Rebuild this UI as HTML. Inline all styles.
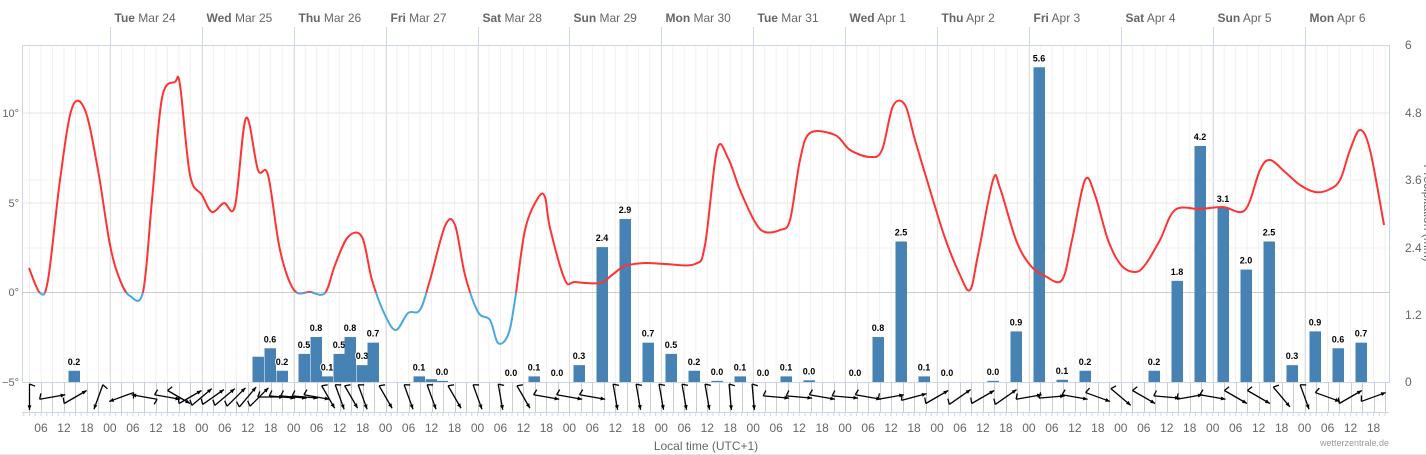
<!DOCTYPE html>
<html><head><meta charset="utf-8"><style>
html,body{margin:0;padding:0;background:#fff;width:1426px;height:455px;overflow:hidden}
svg{display:block;font-family:"Liberation Sans",sans-serif}
</style></head><body>
<svg id="s" width="1426" height="455" xmlns="http://www.w3.org/2000/svg"></svg>
<script>
var s=document.getElementById('s'),h='';
var L=22,R=1389,T=45,B=382;
function X(hr){return 18+hr*91.9/24;}
for(var t=0;t<24*15;t+=3){var x=X(t);if(x<=L||x>=R)continue;h+='<line x1="'+x+'" y1="'+T+'" x2="'+x+'" y2="'+B+'" stroke="#f0f0f0" stroke-width="1"/>';}
var days=['Tue|Mar 24','Wed|Mar 25','Thu|Mar 26','Fri|Mar 27','Sat|Mar 28','Sun|Mar 29','Mon|Mar 30','Tue|Mar 31','Wed|Apr 1','Thu|Apr 2','Fri|Apr 3','Sat|Apr 4','Sun|Apr 5','Mon|Apr 6'];
for(var d=1;d<=14;d++){var x=Math.round(X(d*24))+.5;h+='<line x1="'+x+'" y1="'+T+'" x2="'+x+'" y2="'+B+'" stroke="#dedede"/>';h+='<line x1="'+x+'" y1="27" x2="'+x+'" y2="'+T+'" stroke="#ccd6eb"/>';var p=days[d-1].split('|');h+='<text x="'+(x+4)+'" y="22" font-size="12" fill="#666"><tspan font-weight="bold">'+p[0]+'</tspan> '+p[1]+'</text>';}
[[113,'#e6e6e6'],[203,'#e6e6e6'],[248,'#f2f2f2'],[180,'#f2f2f2'],[292.5,'#ccc']].forEach(function(g){h+='<line x1="'+L+'" y1="'+g[0]+'" x2="'+R+'" y2="'+g[0]+'" stroke="'+g[1]+'"/>';});
h+='<rect x="'+(L+.5)+'" y="'+(T+.5)+'" width="'+(R-L)+'" height="'+(B-T)+'" fill="none" stroke="#ccd6eb"/>';
[['10°',113],['5°',203],['0°',292],['−5°',382]].forEach(function(a){h+='<text x="19" y="'+(a[1]+4)+'" font-size="11" fill="#666" text-anchor="end">'+a[0]+'</text>';});
[['6',45],['4.8',113],['3.6',180],['2.4',248],['1.2',315],['0',382]].forEach(function(a){h+='<text x="1405" y="'+(a[1]+4)+'" font-size="12" fill="#666">'+a[0]+'</text>';});
h+='<text transform="translate(1424,213) rotate(90)" font-size="12" fill="#666" text-anchor="middle">Precipitation (mm)</text>';
var bars=[[74,.2,1],[258,.45,0],[270,.6,1],[282,.2,1],[304,.5,1],[316,.8,1],[327,.1,1],[339,.5,1],[350,.8,1],[362,.3,1],[373,.7,1],[419,.1,1],[431,.05,0],[442,.02,1],[511,0,1],[534,.1,1],[557,0,1],[579,.3,1],[602,2.4,1],[625,2.9,1],[648,.7,1],[671,.5,1],[694,.2,1],[717,.02,1],[740,.1,1],[763,0,1],[786,.1,1],[809,.03,1],[855,0,1],[878,.8,1],[901,2.5,1],[924,.1,1],[947,0,1],[993,.02,1],[1016,.9,1],[1039,5.6,1],[1062,.04,1],[1085,.2,1],[1154,.2,1],[1177,1.8,1],[1200,4.2,1],[1223,3.1,1],[1246,2.0,1],[1269,2.5,1],[1292,.3,1],[1315,.9,1],[1338,.6,1],[1361,.7,1]];
var lab=['0.2','','0.6','0.2','0.5','0.8','0.1','0.5','0.8','0.3','0.7','0.1','','0.0'];
bars.forEach(function(b,i){var hh=b[1]*56.2,y=B-hh;h+='<rect x="'+(b[0]-5.5)+'" y="'+y+'" width="11.5" height="'+hh+'" fill="#4682b4"/>';if(b[2]){var tx=i<14?lab[i]:b[1].toFixed(1);if(i==36)tx='0.1';if(tx)h+='<text x="'+b[0]+'" y="'+(y-6)+'" font-size="9" font-weight="bold" text-anchor="middle" fill="#000" stroke="#fff" stroke-width="2" paint-order="stroke">'+tx+'</text>';}});
var P=[[29,268],[40,293],[48,280],[60,180],[72,108],[85,110],[98,170],[110,245],[120,280],[130,296],[143,292],[152,200],[162,98],[175,82],[180,85],[190,175],[202,195],[212,212],[224,203],[235,206],[246,118],[258,170],[268,175],[280,250],[294,290],[310,292],[325,293],[335,265],[348,237],[362,237],[372,280],[385,315],[396,330],[408,313],[420,310],[430,280],[445,226],[455,225],[465,275],[478,312],[490,320],[498,343],[508,335],[515,300],[525,230],[538,198],[545,197],[550,228],[565,280],[575,282],[600,283],[612,275],[625,266],[645,263],[665,264],[695,264],[705,245],[717,150],[728,158],[740,190],[755,222],[765,232],[780,230],[790,220],[800,160],[810,133],[835,135],[850,150],[870,157],[882,150],[893,106],[905,105],[915,140],[930,190],[945,238],[960,275],[970,290],[978,255],[993,180],[1000,188],[1016,240],[1030,265],[1045,276],[1062,280],[1072,240],[1085,180],[1095,195],[1108,240],[1121,265],[1135,272],[1145,265],[1160,240],[1175,210],[1200,209],[1223,207],[1245,210],[1260,170],[1270,160],[1285,172],[1300,185],[1315,192],[1328,190],[1340,180],[1350,150],[1360,130],[1370,150],[1384,225]];
var d='M'+P[0];for(var i=1;i<P.length;i++){var p0=P[Math.max(0,i-2)],p1=P[i-1],p2=P[i],p3=P[Math.min(P.length-1,i+1)];var c1x=p1[0]+(p2[0]-p0[0])/6,c1y=p1[1]+(p2[1]-p0[1])/6,c2x=p2[0]-(p3[0]-p1[0])/6,c2y=p2[1]-(p3[1]-p1[1])/6;d+=' C'+c1x+','+c1y+' '+c2x+','+c2y+' '+p2[0]+','+p2[1];}
h+='<clipPath id="a"><rect x="0" y="0" width="1426" height="292.5"/></clipPath><clipPath id="b"><rect x="0" y="292.5" width="1426" height="100"/></clipPath>';
h+='<path d="'+d+'" fill="none" stroke="#f33" stroke-width="2" clip-path="url(#a)"/><path d="'+d+'" fill="none" stroke="#4aa8e0" stroke-width="2" clip-path="url(#b)"/>';
for(var t=0;t<24*15;t+=3){var x=Math.round(X(t))+.5;if(x<=L||x>=R)continue;h+='<line x1="'+x+'" y1="382" x2="'+x+'" y2="412" stroke="#ccc"/>';}
for(var t=0;t<24*15;t+=1.5){var x=X(t);if(x<L||x>R)continue;h+='<line x1="'+x+'" y1="412" x2="'+x+'" y2="416" stroke="#ccd6eb"/>';}
h+='<line x1="'+L+'" y1="412.5" x2="'+R+'" y2="412.5" stroke="#ccd6eb"/>';
var ang=[180,80,60,200,250,280,100,120,60,50,55,50,45,40,45,90,95,95,95,100,150,160,150,160,150,160,160,150,160,170,150,100,100,100,170,170,170,170,170,175,175,95,95,100,95,100,80,75,60,55,60,55,80,85,100,110,130,120,95,80,100,120,120,140,160,110,60,70,60,180,150,60,110,100,60,55,100,80,80,90,90,170,200];
var k=0;for(var t=3;t<24*15-3;t+=(t>36&&t<90?3:6)){var x=X(t);if(x<L+5||x>R-3)continue;var a=(ang[k++%ang.length]-90)*Math.PI/180,l=13,cx=x,cy=397,x1=cx-Math.cos(a)*l,y1=cy-Math.sin(a)*l,x2=cx+Math.cos(a)*l,y2=cy+Math.sin(a)*l;h+='<line x1="'+x1+'" y1="'+y1+'" x2="'+x2+'" y2="'+y2+'" stroke="#000" stroke-width="1.3"/>';var ha=a+Math.PI;h+='<path d="M'+x2+','+y2+' L'+(x2+Math.cos(ha+.4)*5)+','+(y2+Math.sin(ha+.4)*5)+' L'+(x2+Math.cos(ha-.4)*5)+','+(y2+Math.sin(ha-.4)*5)+'Z"/>';h+='<line x1="'+x1+'" y1="'+y1+'" x2="'+(x1+Math.cos(a-1.2)*6)+'" y2="'+(y1+Math.sin(a-1.2)*6)+'" stroke="#000" stroke-width="1.3"/>';}
var hl=['00','06','12','18'];for(var t=6;t<24*15;t+=6){var x=X(t);if(x<L||x>R)continue;h+='<text x="'+x+'" y="432" font-size="12" fill="#666" text-anchor="middle">'+hl[(t/6)%4]+'</text>';}
h+='<text x="706" y="450" font-size="12" fill="#666" text-anchor="middle">Local time (UTC+1)</text>';
h+='<text x="1389" y="446" font-size="9" fill="#999" text-anchor="end">wetterzentrale.de</text>';
h+='<line x1="0" y1="454.5" x2="1426" y2="454.5" stroke="#e6e6e6"/>';
s.innerHTML=h;
</script>
</body></html>
